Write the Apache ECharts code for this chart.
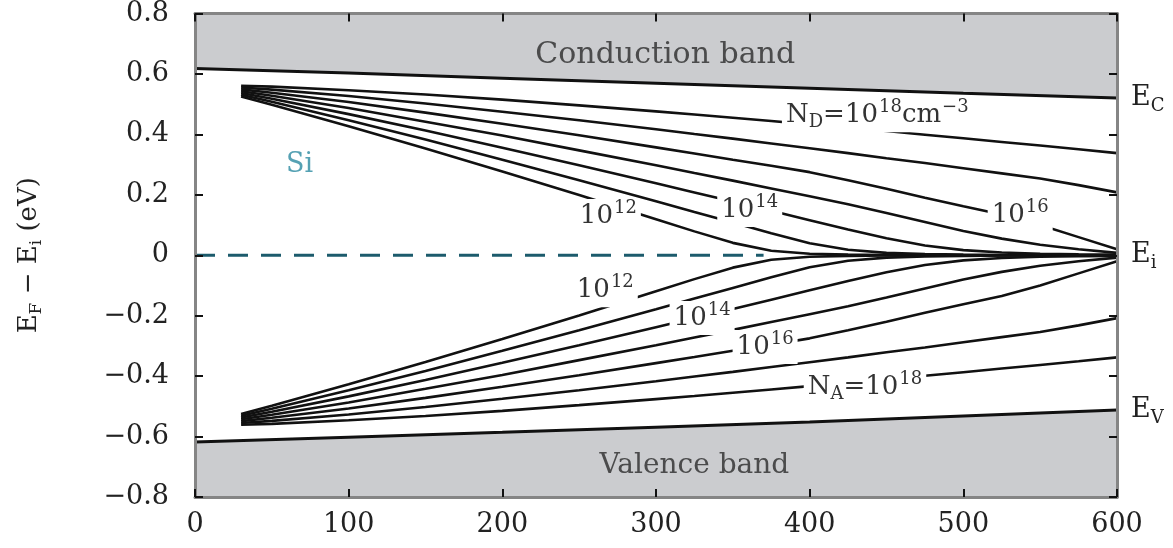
<!DOCTYPE html>
<html><head><meta charset="utf-8">
<script src="https://cdn.jsdelivr.net/npm/echarts@6/dist/echarts.min.js"></script>
<style>html,body{margin:0;padding:0;background:#fff}#c{width:1173px;height:548px}</style>
</head><body><div id="c"></div>
<script>
// Temperature grid (K)
const temps = [30, 50, 100, 150, 200, 250, 300, 325, 350, 375, 400, 425, 450, 475, 500, 525, 550, 575, 600];

// n-type (N_D) Fermi level, E_F - E_i (eV)
const nD12 = [0.525, 0.498, 0.427, 0.353, 0.277, 0.199, 0.119, 0.079, 0.041, 0.015, 0.005, 0.002, 0.001, 0.000, 0.000, 0.000, 0.000, 0.000, 0.000];
const nD13 = [0.531, 0.508, 0.447, 0.383, 0.316, 0.248, 0.179, 0.143, 0.108, 0.073, 0.040, 0.018, 0.008, 0.004, 0.002, 0.001, 0.000, 0.000, 0.000];
const nD14 = [0.537, 0.518, 0.467, 0.413, 0.356, 0.298, 0.238, 0.208, 0.178, 0.147, 0.116, 0.085, 0.056, 0.032, 0.017, 0.009, 0.005, 0.003, 0.002];
const nD15 = [0.543, 0.528, 0.487, 0.442, 0.396, 0.347, 0.298, 0.272, 0.247, 0.221, 0.195, 0.169, 0.140, 0.110, 0.080, 0.055, 0.035, 0.020, 0.008];
const nD16 = [0.549, 0.538, 0.507, 0.472, 0.435, 0.397, 0.357, 0.337, 0.316, 0.296, 0.275, 0.248, 0.220, 0.190, 0.162, 0.135, 0.100, 0.060, 0.020];
const nD17 = [0.555, 0.548, 0.527, 0.502, 0.475, 0.447, 0.417, 0.401, 0.386, 0.370, 0.354, 0.338, 0.321, 0.305, 0.288, 0.271, 0.254, 0.232, 0.208];
const nD18 = [0.561, 0.558, 0.546, 0.532, 0.515, 0.496, 0.476, 0.466, 0.455, 0.444, 0.433, 0.422, 0.411, 0.399, 0.387, 0.375, 0.363, 0.351, 0.338];

// p-type (N_A) Fermi level, E_F - E_i (eV)
const nA12 = [-0.525, -0.498, -0.427, -0.353, -0.277, -0.199, -0.119, -0.079, -0.041, -0.015, -0.005, -0.002, -0.001, 0.000, 0.000, 0.000, 0.000, 0.000, 0.000];
const nA13 = [-0.531, -0.508, -0.447, -0.383, -0.316, -0.248, -0.179, -0.143, -0.108, -0.073, -0.040, -0.018, -0.008, -0.004, -0.002, -0.001, 0.000, 0.000, 0.000];
const nA14 = [-0.537, -0.518, -0.467, -0.413, -0.356, -0.298, -0.238, -0.208, -0.178, -0.147, -0.116, -0.085, -0.056, -0.032, -0.017, -0.009, -0.005, -0.003, -0.002];
const nA15 = [-0.543, -0.528, -0.487, -0.442, -0.396, -0.347, -0.298, -0.272, -0.247, -0.221, -0.195, -0.169, -0.140, -0.110, -0.080, -0.055, -0.035, -0.020, -0.008];
const nA16 = [-0.549, -0.538, -0.507, -0.472, -0.435, -0.397, -0.357, -0.337, -0.316, -0.296, -0.275, -0.248, -0.220, -0.190, -0.162, -0.135, -0.100, -0.060, -0.020];
const nA17 = [-0.555, -0.548, -0.527, -0.502, -0.475, -0.447, -0.417, -0.401, -0.386, -0.370, -0.354, -0.338, -0.321, -0.305, -0.288, -0.271, -0.254, -0.232, -0.208];
const nA18 = [-0.561, -0.558, -0.546, -0.532, -0.515, -0.496, -0.476, -0.466, -0.455, -0.444, -0.433, -0.422, -0.411, -0.399, -0.387, -0.375, -0.363, -0.351, -0.338];

// Band edges
const bandT = [0, 100, 200, 300, 400, 500, 600];
const ecEdge = [0.618, 0.603, 0.586, 0.569, 0.553, 0.536, 0.520];
const evEdge = [-0.618, -0.602, -0.586, -0.569, -0.552, -0.532, -0.512];

// Intrinsic level (dashed part)
const eiT = [0, 370];
const eiE = [0, 0];

// Tick labels
const xTickLabels = ['0', '100', '200', '300', '400', '500', '600'];
const yTickLabels = ['\u22120.8', '\u22120.6', '\u22120.4', '\u22120.2', '0', '0.2', '0.4', '0.6', '0.8'];

// Curve labels: [T, E, text]
const curveLabelT = [269, 361, 537, 444, 267, 330, 371, 436];
const curveLabelE = [0.130, 0.150, 0.132, 0.463, -0.116, -0.208, -0.304, -0.436];
const curveLabelText = [
  '{b|10}{s|12}', '{b|10}{s|14}', '{b|10}{s|16}', '{b|N}{d|D}{b|=10}{s|18}{b|cm}{s|\u22123}',
  '{b|10}{s|12}', '{b|10}{s|14}', '{b|10}{s|16}', '{b|N}{d|A}{b|=10}{s|18}'
];

// Edge labels at right
const edgeLabelE = [0.520, 0.0, -0.512];
const edgeLabelText = ['{e|E}{d|C}', '{e|E}{d|i}', '{e|E}{d|V}'];

// Region labels
const regionT = [306, 325, 68];
const regionE = [0.662, -0.695, 0.300];
const regionText = ['Conduction band', 'Valence band', 'Si'];

const FONT = 'DejaVu Serif';
const pairs = (xs, ys) => xs.map((x, i) => [x, ys[i]]);

const curves = [nD12, nD13, nD14, nD15, nD16, nD17, nD18, nA12, nA13, nA14, nA15, nA16, nA17, nA18];

const series = [];
series.push({
  type: 'line', data: pairs(bandT, ecEdge), symbol: 'none', z: 1,
  lineStyle: { color: '#111', width: 3 },
  areaStyle: { color: '#cbcccf', opacity: 1, origin: 'end' }
});
series.push({
  type: 'line', data: pairs(bandT, evEdge), symbol: 'none', z: 1,
  lineStyle: { color: '#111', width: 3 },
  areaStyle: { color: '#cbcccf', opacity: 1, origin: 'start' }
});
series.push({
  type: 'line', data: pairs(eiT, eiE), symbol: 'none', z: 2,
  lineStyle: { color: '#1c5b6c', width: 3, type: [20, 13] }
});
curves.forEach(c => series.push({
  type: 'line', data: pairs(temps, c), symbol: 'none', z: 3,
  lineStyle: { color: '#111', width: 2.6 }
}));

const labelRich = {
  b: { fontFamily: FONT, fontSize: 26, color: '#333' },
  s: { fontFamily: FONT, fontSize: 18, color: '#333', padding: [0, 0, 16, 1] },
  d: { fontFamily: FONT, fontSize: 18, color: '#333', padding: [14, 0, 0, 0] }
};
const hidden = { color: '#fff', opacity: 1 };
series.push({
  type: 'scatter', z: 6, symbolSize: 0.1, clip: false, silent: true,
  itemStyle: hidden,
  data: curveLabelT.map((t, i) => ({
    value: [t, curveLabelE[i]],
    label: { show: true, position: 'inside', formatter: curveLabelText[i],
      backgroundColor: '#ffffff', padding: [0, 4, 0, 4], rich: labelRich }
  }))
});
series.push({
  type: 'scatter', z: 6, symbolSize: 0.1, clip: false, silent: true,
  itemStyle: hidden,
  data: edgeLabelE.map((e, i) => ({
    value: [600, e],
    label: { show: true, position: 'right', distance: 14, formatter: edgeLabelText[i],
      rich: {
        e: { fontFamily: FONT, fontSize: 27, color: '#222' },
        d: { fontFamily: FONT, fontSize: 18, color: '#222', padding: [16, 0, 0, 0] }
      } }
  }))
});
series.push({
  type: 'scatter', z: 6, symbolSize: 0.1, clip: false, silent: true,
  itemStyle: { color: 'rgba(255,255,255,0)' },
  data: regionT.map((t, i) => ({
    value: [t, regionE[i]],
    label: { show: true, position: 'inside', formatter: regionText[i],
      fontFamily: FONT, fontSize: i === 2 ? 27 : (i === 0 ? 30 : 28),
      color: i === 2 ? '#2b8aa0' : '#2a2a2a' }
  }))
});

const frameLine = { show: true, onZero: false, lineStyle: { color: '#858585', width: 3 } };
const tick = { show: true, inside: true, length: 8, lineStyle: { color: '#111', width: 2 } };

const option = {
  animation: false,
  backgroundColor: '#fff',
  grid: { left: 195, right: 56, top: 13, bottom: 51, containLabel: false },
  xAxis: [
    { type: 'value', min: 0, max: 600, interval: 100, position: 'bottom', z: 8,
      axisLine: frameLine, axisTick: tick, splitLine: { show: false },
      axisLabel: { margin: 14, fontFamily: FONT, fontSize: 27, color: '#222',
        formatter: v => xTickLabels[Math.round(v / 100)] } },
    { type: 'value', min: 0, max: 600, interval: 100, position: 'top', z: 8,
      axisLine: frameLine, axisTick: tick, splitLine: { show: false },
      axisLabel: { show: false } }
  ],
  yAxis: [
    { type: 'value', min: -0.8, max: 0.8, interval: 0.2, position: 'left', z: 8,
      axisLine: frameLine, axisTick: tick, splitLine: { show: false },
      axisLabel: { margin: 26, fontFamily: FONT, fontSize: 27, color: '#222',
        formatter: v => yTickLabels[Math.round((v + 0.8) / 0.2)] },
      name: '{e|E}{d|F}{e| \u2212 E}{d|i}{e| (eV)}', nameLocation: 'middle', nameGap: 150, nameRotate: 90,
      nameTextStyle: { rich: {
        e: { fontFamily: FONT, fontSize: 26, color: '#222' },
        d: { fontFamily: FONT, fontSize: 17, color: '#222', padding: [14, 0, 0, 0] }
      } } },
    { type: 'value', min: -0.8, max: 0.8, interval: 0.2, position: 'right', z: 8,
      axisLine: frameLine, axisTick: tick, splitLine: { show: false },
      axisLabel: { show: false } }
  ],
  series: series
};

const chart = echarts.init(document.getElementById('c'), null, { renderer: 'canvas' });
chart.setOption(option);
</script>
</body></html>
